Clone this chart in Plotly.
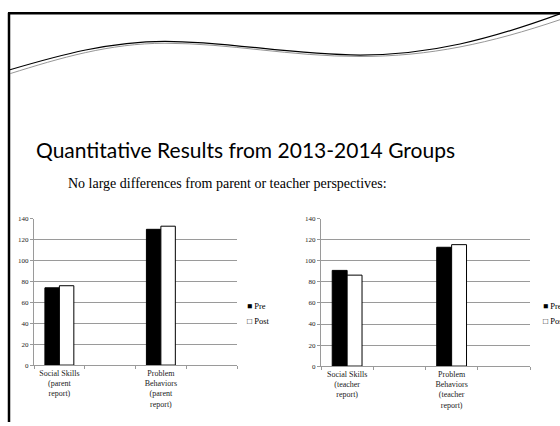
import plotly.graph_objects as go

W, H = 560, 426

# ---- data ----
slots_parent = ["Social Skills<br>(parent<br>report)", "gap1", "Problem<br>Behaviors<br>(parent<br>report)", "gap2"]
labels_parent = ["Social Skills<br>(parent<br>report)", "", "Problem<br>Behaviors<br>(parent<br>report)", ""]
slots_teacher = ["Social Skills<br>(teacher<br>report)", "gap3", "Problem<br>Behaviors<br>(teacher<br>report)", "gap4"]
labels_teacher = ["Social Skills<br>(teacher<br>report)", "", "Problem<br>Behaviors<br>(teacher<br>report)", ""]
pre_parent = [74, None, 130, None]
post_parent = [76, None, 133, None]
pre_teacher = [91, None, 113, None]
post_teacher = [86.5, None, 115.5, None]
y_ticks = [0, 20, 40, 60, 80, 100, 120, 140]
series_names = ["Pre", "Post"]

def px(x):
    return x / W

def py(y):
    return 1 - y / H

SERIF = "Liberation Serif"
GRID = "#9a9a9a"

fig = go.Figure()
fig.add_trace(go.Bar(x=slots_parent, y=pre_parent, name=series_names[0], xaxis="x", yaxis="y",
                     marker=dict(color="black", line=dict(color="black", width=1)), showlegend=False))
fig.add_trace(go.Bar(x=slots_parent, y=post_parent, name=series_names[1], xaxis="x", yaxis="y",
                     marker=dict(color="white", line=dict(color="black", width=1)), showlegend=False))
fig.add_trace(go.Bar(x=slots_teacher, y=pre_teacher, name=series_names[0], xaxis="x2", yaxis="y2",
                     marker=dict(color="black", line=dict(color="black", width=1)), showlegend=False))
fig.add_trace(go.Bar(x=slots_teacher, y=post_teacher, name=series_names[1], xaxis="x2", yaxis="y2",
                     marker=dict(color="white", line=dict(color="black", width=1)), showlegend=False))

xcommon = dict(type="category", tickson="boundaries", ticks="outside", ticklen=3, tickcolor=GRID,
               showline=True, linecolor=GRID, linewidth=1, showgrid=False,
               tickfont=dict(family=SERIF, size=8, color="#222"), fixedrange=True)
ycommon = dict(range=[0, 140], tickvals=y_ticks, ticks="outside", ticklen=3, tickcolor=GRID,
               showline=True, linecolor=GRID, linewidth=1, showgrid=True, gridcolor=GRID, gridwidth=1,
               zeroline=False, tickfont=dict(family=SERIF, size=7, color="#222"), fixedrange=True)

fig.update_layout(
    width=W, height=H, margin=dict(l=0, r=0, t=0, b=0),
    paper_bgcolor="white", plot_bgcolor="white",
    barmode="group", bargap=0.43, bargroupgap=0,
    xaxis=dict(domain=[px(34), px(237)], anchor="y", categoryarray=slots_parent, categoryorder="array",
               tickvals=slots_parent, ticktext=labels_parent, **xcommon),
    yaxis=dict(domain=[py(368), py(219)], anchor="x", **ycommon),
    xaxis2=dict(domain=[px(321), px(530)], anchor="y2", categoryarray=slots_teacher, categoryorder="array",
                tickvals=slots_teacher, ticktext=labels_teacher, **xcommon),
    yaxis2=dict(domain=[py(369), py(219)], anchor="x2", **ycommon),
    showlegend=False,
)

# slide decorations: border and wave
shapes = [
    dict(type="line", xref="paper", yref="paper", x0=px(9), x1=px(9), y0=py(9), y1=py(426),
         line=dict(color="black", width=2.5)),
    dict(type="line", xref="paper", yref="paper", x0=px(8), x1=px(560), y0=py(9.5), y1=py(9.5),
         line=dict(color="black", width=2.5)),
]

def wave(pts, color, width):
    (x0, y0), rest = pts[0], pts[1:]
    d = f"M {px(x0):.4f},{py(y0):.4f}"
    for i in range(0, len(rest), 3):
        (a, b), (c, e), (f, g) = rest[i:i + 3]
        d += f" C {px(a):.4f},{py(b):.4f} {px(c):.4f},{py(e):.4f} {px(f):.4f},{py(g):.4f}"
    return dict(type="path", xref="paper", yref="paper", path=d, line=dict(color=color, width=width))

shapes.append(wave([(10, 67), (60, 52), (110, 38), (165, 38), (230, 38), (290, 52), (360, 52),
                    (430, 52), (490, 36), (560, 10)], "black", 1.2))
shapes.append(wave([(10, 71), (60, 55), (110, 40), (165, 40), (230, 40), (290, 53.5), (360, 53.5),
                    (430, 53.5), (490, 40), (560, 16)], "#8a8a8a", 0.9))
fig.update_layout(shapes=shapes)

annotations = [
    dict(text="Quantitative Results from 2013-2014 Groups", x=px(34), y=py(148), xref="paper", yref="paper",
         xanchor="left", yanchor="middle", showarrow=False, font=dict(family="Lato", size=21, color="black")),
    dict(text="No large differences from parent or teacher perspectives:", x=px(66), y=py(183),
         xref="paper", yref="paper", xanchor="left", yanchor="middle", showarrow=False,
         font=dict(family=SERIF, size=14, color="black")),
]
for lx in (245, 541):
    annotations.append(dict(text="■ " + series_names[0], x=px(lx), y=py(308), xref="paper", yref="paper",
                            xanchor="left", yanchor="middle", showarrow=False,
                            font=dict(family=SERIF, size=8.5, color="black")))
    annotations.append(dict(text="□ " + series_names[1], x=px(lx), y=py(323), xref="paper", yref="paper",
                            xanchor="left", yanchor="middle", showarrow=False,
                            font=dict(family=SERIF, size=8.5, color="black")))
fig.update_layout(annotations=annotations)

fig.write_html("out.html", config={"displayModeBar": False},
               post_script="document.body.style.margin='0';document.body.style.overflow='hidden';")
